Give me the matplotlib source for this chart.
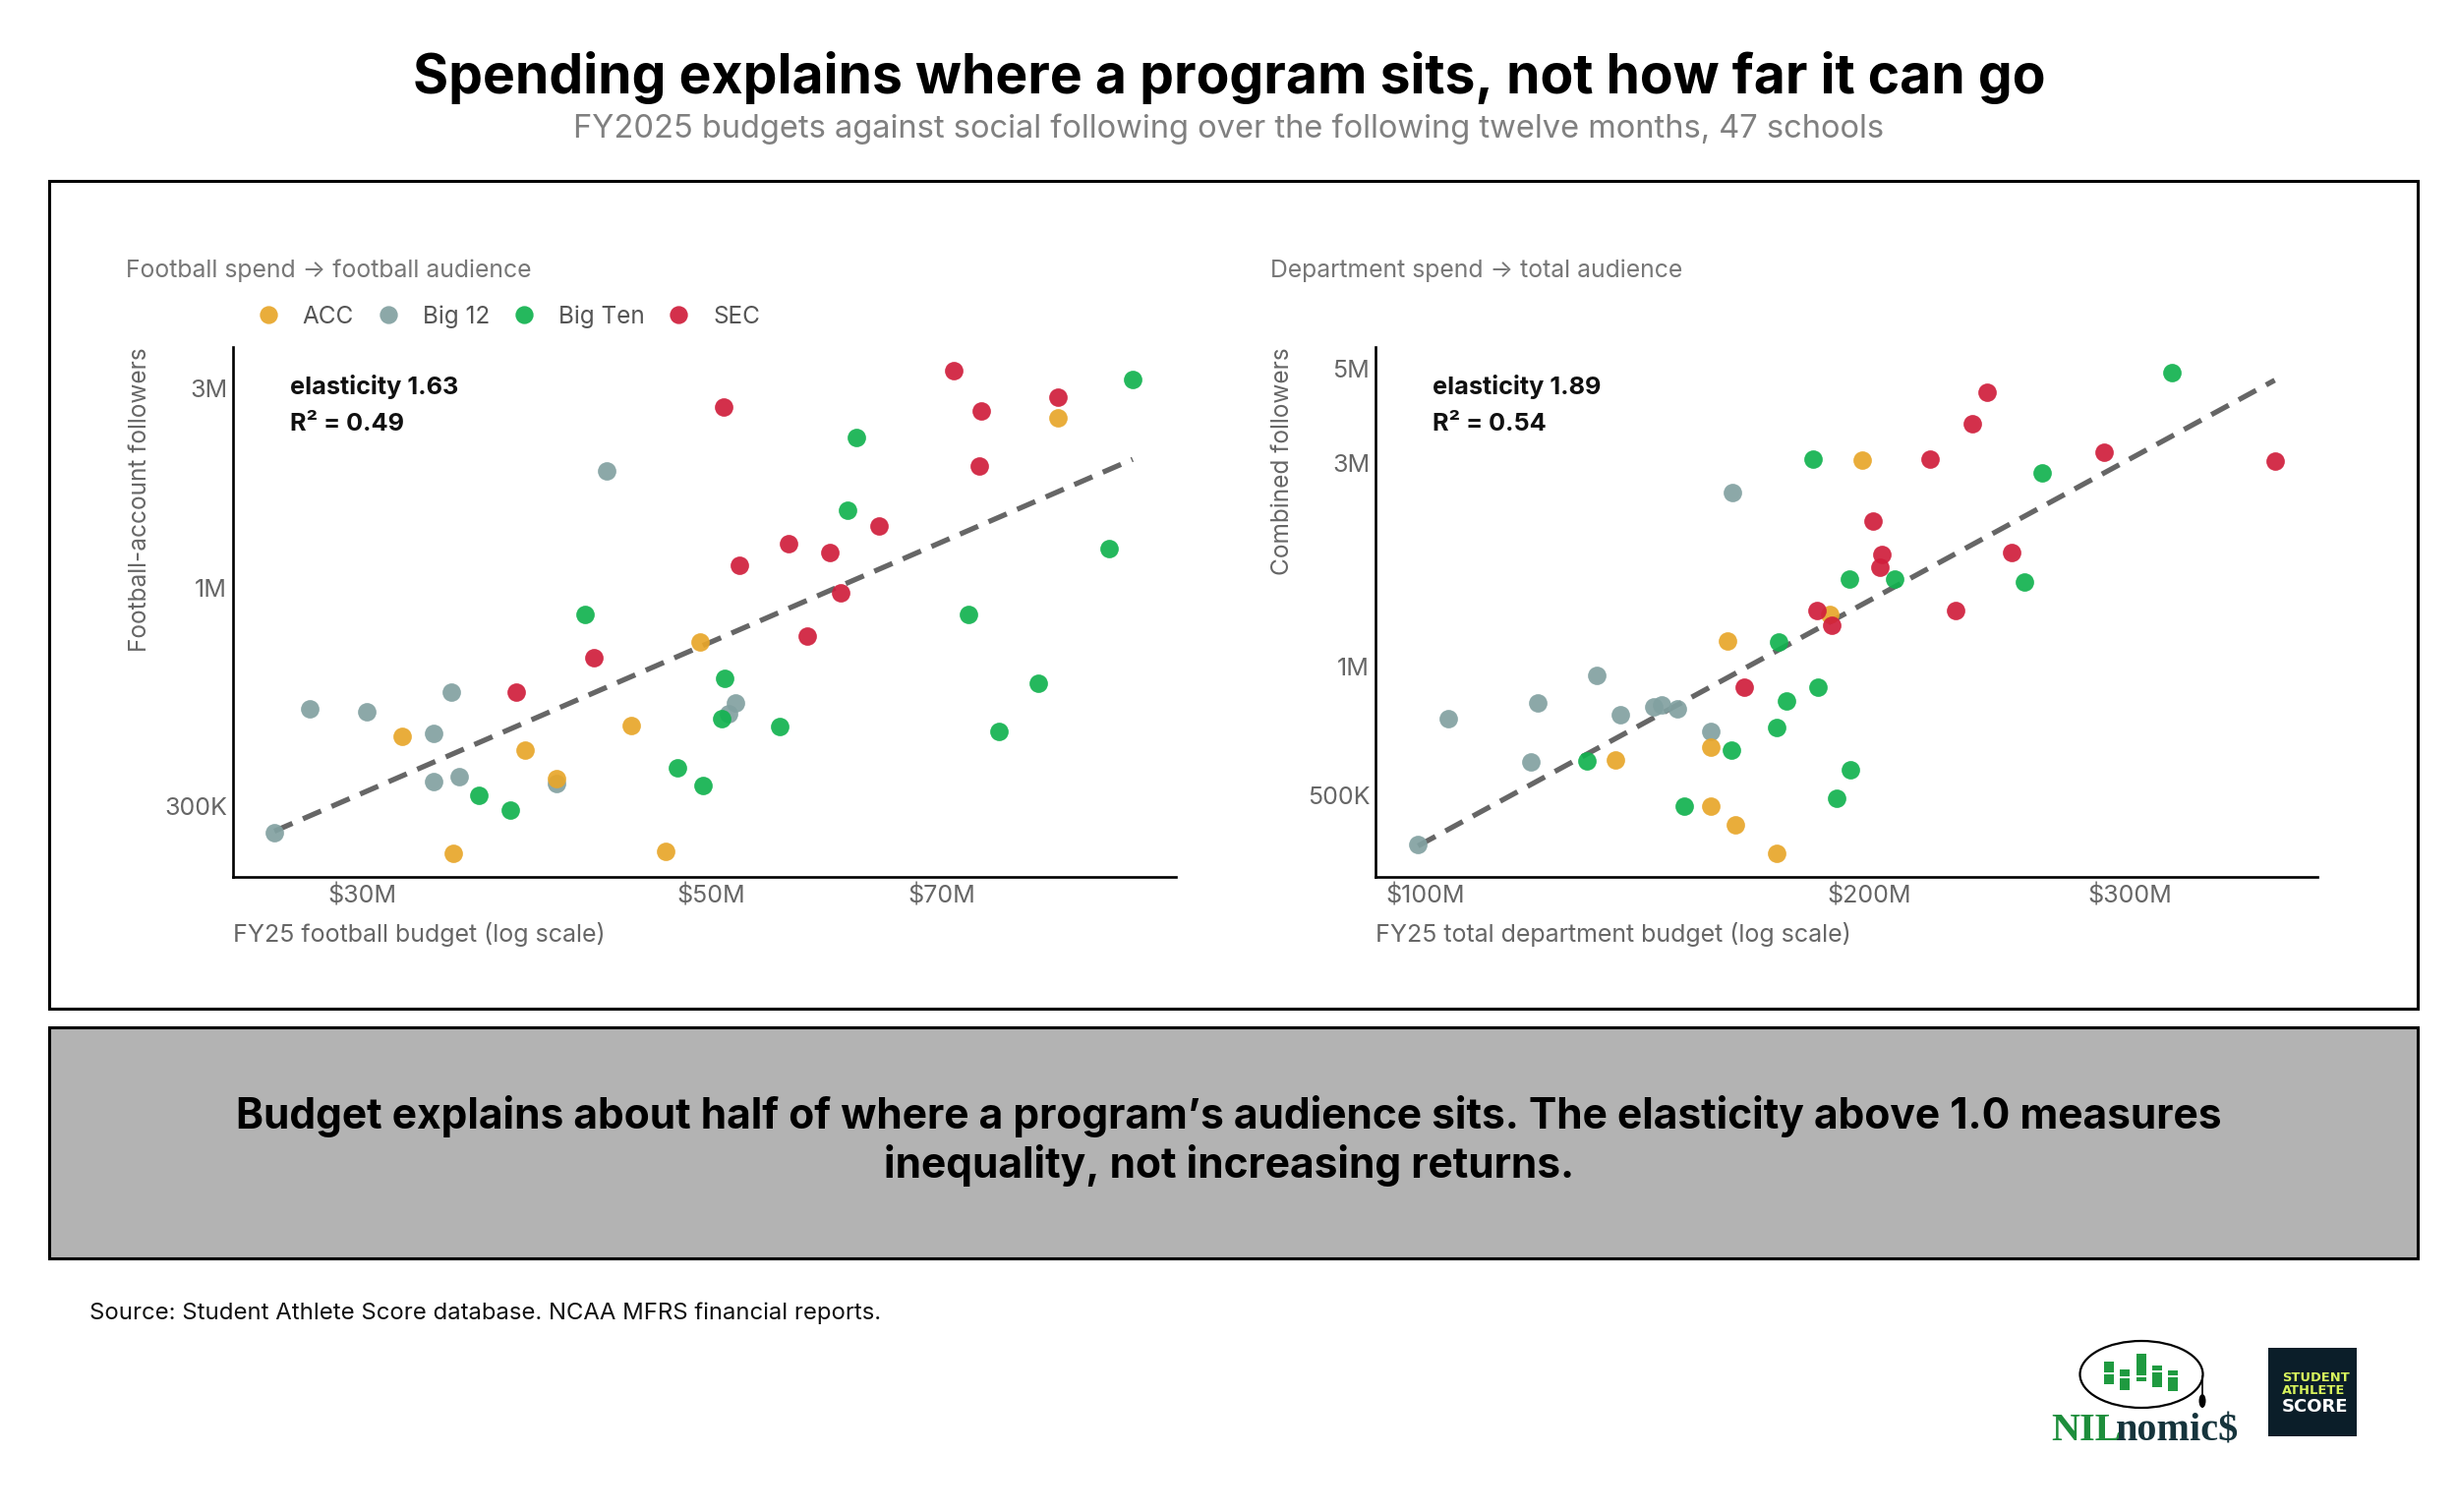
import numpy as np
import matplotlib
matplotlib.use("Agg")
import matplotlib.pyplot as plt
from matplotlib.patches import Rectangle, Ellipse
from matplotlib.lines import Line2D
from matplotlib.ticker import FixedLocator, NullLocator

plt.rcParams["font.family"] = ["Inter", "DejaVu Sans"]

W, H = 2500, 1538

# conference colours
conferences = ["ACC", "Big 12", "Big Ten", "SEC"]
conf_colors = {"ACC": "#E8A62A", "Big 12": "#82A1A1", "Big Ten": "#12B24F", "SEC": "#D01E3C"}
draw_order = ["Big 12", "ACC", "Big Ten", "SEC"]

# left panel: FY25 football budget ($M) vs football-account followers (M)
fb_budget = {
    "ACC": [31.8, 38.1, 39.9, 34.3, 44.5, 49.2, 46.8, 83.0],
    "Big 12": [26.4, 27.8, 30.2, 33.3, 34.2, 33.3, 34.6, 39.9, 42.9, 51.3, 51.8],
    "Big Ten": [35.6, 37.3, 41.6, 47.6, 49.4, 51.0, 50.8, 55.3, 61.0, 61.8, 72.8, 76.2, 80.7, 89.4, 92.6],
    "SEC": [37.6, 42.1, 50.9, 52.1, 56.0, 59.5, 60.4, 57.5, 63.9, 71.3, 74.2, 74.0, 83.0],
}
fb_followers = {
    "ACC": [0.439, 0.407, 0.349, 0.231, 0.468, 0.741, 0.234, 2.55],
    "Big 12": [0.259, 0.513, 0.503, 0.448, 0.563, 0.343, 0.353, 0.339, 1.90, 0.498, 0.528],
    "Big Ten": [0.317, 0.293, 0.861, 0.369, 0.336, 0.607, 0.485, 0.465, 1.53, 2.29, 0.861, 0.452, 0.589, 1.24, 3.15],
    "SEC": [0.562, 0.679, 2.71, 1.13, 1.27, 1.21, 0.970, 0.766, 1.40, 3.30, 2.64, 1.95, 2.86],
}

# right panel: FY25 total department budget ($M) vs combined followers (M)
dept_budget = {
    "ACC": [134.6, 156.1, 156.1, 160.3, 162.3, 173.1, 187.9, 197.7],
    "Big 12": [98.9, 103.7, 118.0, 119.2, 130.6, 135.6, 142.9, 144.5, 148.3, 156.2, 161.6],
    "Big Ten": [128.6, 149.7, 161.2, 173.1, 173.5, 175.8, 184.4, 183.0, 190.1, 193.7, 194.0, 208.0, 254.8, 261.8, 320.3],
    "SEC": [164.4, 184.2, 188.6, 201.1, 203.8, 203.4, 219.8, 228.6, 234.9, 240.3, 249.7, 288.4, 376.3],
}
dept_followers = {
    "ACC": [0.604, 0.648, 0.472, 1.149, 0.426, 0.365, 1.330, 3.056],
    "Big 12": [0.384, 0.755, 0.598, 0.821, 0.957, 0.774, 0.807, 0.813, 0.797, 0.706, 2.557],
    "Big Ten": [0.602, 0.472, 0.637, 0.721, 1.146, 0.831, 0.896, 3.071, 0.493, 1.609, 0.575, 1.609, 1.582, 2.854, 4.904],
    "SEC": [0.894, 1.353, 1.252, 2.193, 1.836, 1.714, 3.071, 1.353, 3.705, 4.406, 1.849, 3.185, 3.034],
}

fb_xticks = [30, 50, 70]
fb_xticklabels = ["$30M", "$50M", "$70M"]
fb_yticks = [0.3, 1, 3]
fb_yticklabels = ["300K", "1M", "3M"]
dept_xticks = [100, 200, 300]
dept_xticklabels = ["$100M", "$200M", "$300M"]
dept_yticks = [0.5, 1, 3, 5]
dept_yticklabels = ["500K", "1M", "3M", "5M"]

fb_stats = ("elasticity 1.63", "R² = 0.49")
dept_stats = ("elasticity 1.89", "R² = 0.54")


def fx(px):
    return px / W


def fy(py):
    return 1 - py / H


def add_box(fig, x0, y0, x1, y1, **kw):
    r = Rectangle((fx(x0), fy(y1)), fx(x1) - fx(x0), fy(y0) - fy(y1),
                  transform=fig.transFigure, **kw)
    fig.add_artist(r)
    return r


def panel(ax, budget, followers, xticks, xticklabels, yticks, yticklabels,
          xlim, ylim, xlabel, ylabel, stats):
    for conf in draw_order:
        ax.scatter(budget[conf], followers[conf], s=182, color=conf_colors[conf],
                   alpha=0.92, linewidths=0, zorder=3)
    xs = np.concatenate([budget[c] for c in conferences])
    ys = np.concatenate([followers[c] for c in conferences])
    slope, icpt = np.polyfit(np.log(xs), np.log(ys), 1)
    xl = np.array([xs.min(), xs.max()])
    ax.plot(xl, np.exp(icpt) * xl ** slope, color="#666666", lw=3.8,
            dashes=(3.8, 2.2), zorder=2)
    ax.set_xscale("log")
    ax.set_yscale("log")
    ax.set_xlim(*xlim)
    ax.set_ylim(*ylim)
    ax.xaxis.set_major_locator(FixedLocator(xticks))
    ax.xaxis.set_minor_locator(NullLocator())
    ax.yaxis.set_major_locator(FixedLocator(yticks))
    ax.yaxis.set_minor_locator(NullLocator())
    ax.set_xticklabels(xticklabels)
    ax.set_yticklabels(yticklabels)
    ax.tick_params(length=0, labelsize=18, labelcolor="#666666")
    ax.tick_params(axis="x", pad=5.5)
    ax.tick_params(axis="y", pad=4)
    for s in ["top", "right"]:
        ax.spines[s].set_visible(False)
    for s in ["left", "bottom"]:
        ax.spines[s].set_linewidth(1.9)
        ax.spines[s].set_color("black")
    ax.set_xlabel(xlabel, fontsize=18, color="#666666", loc="left")
    ax.xaxis.label.set_verticalalignment("baseline")
    ax.xaxis.set_label_coords(0, -0.1231)
    ax.set_ylabel(ylabel, fontsize=17.6, color="#666666", loc="top")
    ax.yaxis.set_label_coords(-0.086, 1.0)
    ax.text(0.0608, 0.9115, stats[0], transform=ax.transAxes, fontsize=18.2,
            fontweight="bold", color="#111111", va="baseline")
    ax.text(0.0608, 0.8422, stats[1], transform=ax.transAxes, fontsize=18.2,
            fontweight="bold", color="#111111", va="baseline")


fig = plt.figure(figsize=(W / 100, H / 100), dpi=100)
fig.patch.set_facecolor("white")

# header
fig.text(0.5, fy(95), "Spending explains where a program sits, not how far it can go",
         ha="center", va="baseline", fontsize=39.8, fontweight="bold", color="black")
fig.text(0.5, fy(140), "FY2025 budgets against social following over the following twelve months, 47 schools",
         ha="center", va="baseline", fontsize=23.5, color="#808080")

# frames
add_box(fig, 50, 184, 2459, 1026, fill=False, edgecolor="black", linewidth=2.2)
add_box(fig, 50, 1045, 2459, 1280, facecolor="#b3b3b3", edgecolor="black", linewidth=2.2)

ax1 = fig.add_axes([fx(236.7), fy(892), fx(1195.7) - fx(236.7), fy(353.3) - fy(892)])
ax2 = fig.add_axes([fx(1398.7), fy(892), fx(2357.3) - fx(1398.7), fy(353.3) - fy(892)])

panel(ax1, fb_budget, fb_followers, fb_xticks, fb_xticklabels, fb_yticks, fb_yticklabels,
      (24.84, 98.6), (0.2027, 3.757), "FY25 football budget (log scale)",
      "Football-account followers", fb_stats)
panel(ax2, dept_budget, dept_followers, dept_xticks, dept_xticklabels, dept_yticks,
      dept_yticklabels, (92.5, 402.4), (0.3217, 5.61),
      "FY25 total department budget (log scale)", "Combined followers", dept_stats)

fig.text(fx(128), fy(282), "Football spend → football audience", fontsize=17.8,
         color="#777777", va="baseline")
fig.text(fx(1292), fy(282), "Department spend → total audience", fontsize=17.8,
         color="#777777", va="baseline")

handles = [Line2D([], [], marker="o", linestyle="none", markersize=13.2,
                  markerfacecolor=conf_colors[c], markeredgewidth=0, alpha=0.92)
           for c in conferences]
leg = fig.legend(handles, conferences, loc="center left", ncol=4,
                 bbox_to_anchor=(fx(262.8), fy(322)), frameon=False, fontsize=17.5,
                 handlelength=0.8, handletextpad=1.05, columnspacing=1.02,
                 borderpad=0, borderaxespad=0)
for t in leg.get_texts():
    t.set_color("#555555")

# takeaway box text
fig.text(0.5, fy(1148), "Budget explains about half of where a program’s audience sits. The elasticity above 1.0 measures",
         ha="center", va="baseline", fontsize=30.6, fontweight="bold", color="black")
fig.text(0.5, fy(1198), "inequality, not increasing returns.",
         ha="center", va="baseline", fontsize=30.6, fontweight="bold", color="black")

fig.text(fx(91), fy(1342), "Source: Student Athlete Score database. NCAA MFRS financial reports.",
         fontsize=17.2, color="#111111", va="baseline")

# NILnomics logo
fig.add_artist(Ellipse((fx(2178), fy(1398)), fx(125), 68 / H, transform=fig.transFigure,
                       fill=False, edgecolor="black", linewidth=1.6))
bars = [(2140, 1385, 1408, 1396), (2156, 1393, 1414, 1400), (2173, 1377, 1405, 1399),
        (2189, 1389, 1411, 1394), (2205, 1394, 1415, 1399)]
for bx, top, bot, gap in bars:
    add_box(fig, bx, top, bx + 10, bot, facecolor="#1F9A40", edgecolor="none")
    add_box(fig, bx, gap, bx + 10, gap + 2, facecolor="white", edgecolor="none")
fig.add_artist(Line2D([fx(2240), fx(2240)], [fy(1400), fy(1420)], color="black",
                      lw=1.2, transform=fig.transFigure))
fig.add_artist(Ellipse((fx(2240), fy(1425)), fx(7), 14 / H, transform=fig.transFigure,
                       facecolor="black", edgecolor="none"))
fig.text(fx(2086), fy(1465), "NIL", fontsize=29, fontweight="bold",
         family="Liberation Serif", color="#1E8E3C", va="baseline")
fig.text(fx(2152), fy(1465), "nomic$", fontsize=29, fontweight="bold",
         family="Liberation Serif", color="#16343C", va="baseline")

# Student Athlete Score logo
add_box(fig, 2307, 1371, 2397, 1461, facecolor="#0B1E29", edgecolor="none")
fig.text(fx(2321), fy(1405), "STUDENT", fontsize=9.4, fontweight="bold",
         family="DejaVu Sans", color="#D8F35C", va="baseline")
fig.text(fx(2321), fy(1418), "ATHLETE", fontsize=9.4, fontweight="bold",
         family="DejaVu Sans", color="#D8F35C", va="baseline")
fig.text(fx(2321), fy(1436), "SCORE", fontsize=13, fontweight="bold",
         family="DejaVu Sans", color="white", va="baseline")

fig.savefig("out.png", dpi=100)
